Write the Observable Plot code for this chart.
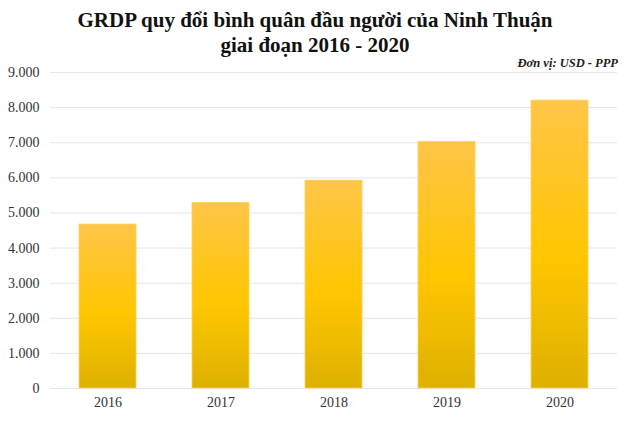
<!DOCTYPE html>
<html>
<head>
<meta charset="utf-8">
<script src="https://cdn.jsdelivr.net/npm/d3@7"></script>
<script src="https://cdn.jsdelivr.net/npm/@observablehq/plot@0.6"></script>
<style>
  html, body { margin: 0; padding: 0; background: #fff; }
  #wrap { position: relative; width: 630px; height: 429px; font-family: "Liberation Serif", "Times New Roman", serif; }
  #title { height: 58px; text-align: center; font-weight: bold; font-size: 21px; line-height: 25px; color: #111; padding-top: 8px; box-sizing: border-box; }
  #unit { position: absolute; right: 12px; top: 56px; font-size: 12.5px; font-style: italic; font-weight: bold; color: #222; }
  #chart svg, #chart svg text { font-family: "Liberation Serif", "Times New Roman", serif !important; }
</style>
</head>
<body>
<div id="wrap">
  <div id="title">GRDP quy đổi bình quân đầu người của Ninh Thuận<br>giai đoạn 2016 - 2020</div>
  <div id="unit">Đơn vị: USD - PPP</div>
  <div id="chart"></div>
</div>
<script>
const years = ["2016", "2017", "2018", "2019", "2020"];
const values = [4670, 5285, 5920, 7020, 8200];
const yTicks = [0, 1000, 2000, 3000, 4000, 5000, 6000, 7000, 8000, 9000];

const data = years.map((y, i) => ({year: y, value: values[i]}));
const fmt = d3.formatLocale({decimal: ",", thousands: ".", grouping: [3], currency: ["", ""]}).format(",");

const defs = () => {
  const g = d3.create("svg:defs");
  const lg = g.append("linearGradient").attr("id", "barGrad").attr("x1", 0).attr("y1", 0).attr("x2", 0).attr("y2", 1);
  lg.append("stop").attr("offset", "0%").attr("stop-color", "#ffc548");
  lg.append("stop").attr("offset", "55%").attr("stop-color", "#ffc600");
  lg.append("stop").attr("offset", "100%").attr("stop-color", "#ddb100");
  return g.node();
};

const chart = Plot.plot({
  width: 630,
  height: 371,
  marginTop: 14,
  marginBottom: 41,
  marginLeft: 50,
  marginRight: 13,
  style: {fontFamily: "'Liberation Serif', 'Times New Roman', serif", fontSize: "14px", color: "#333", background: "#fff"},
  x: {domain: years, paddingInner: 0.5, paddingOuter: 0.25, label: null, tickSize: 0, tickPadding: 9},
  y: {domain: [0, 9000], ticks: yTicks, tickFormat: fmt, label: null, tickSize: 0, tickPadding: 11},
  marks: [
    defs,
    Plot.ruleY(yTicks, {stroke: "#e6e6e6", strokeWidth: 1}),
    Plot.barY(data, {x: "year", y: "value", fill: "url(#barGrad)", stroke: "#ffd25c", strokeWidth: 0.8}),
    Plot.axisX({tickSize: 0, tickPadding: 9, fontSize: 14}),
    Plot.axisY({ticks: yTicks, tickFormat: fmt, tickSize: 0, tickPadding: 11, fontSize: 14})
  ]
});
document.getElementById("chart").appendChild(chart);
</script>
</body>
</html>
